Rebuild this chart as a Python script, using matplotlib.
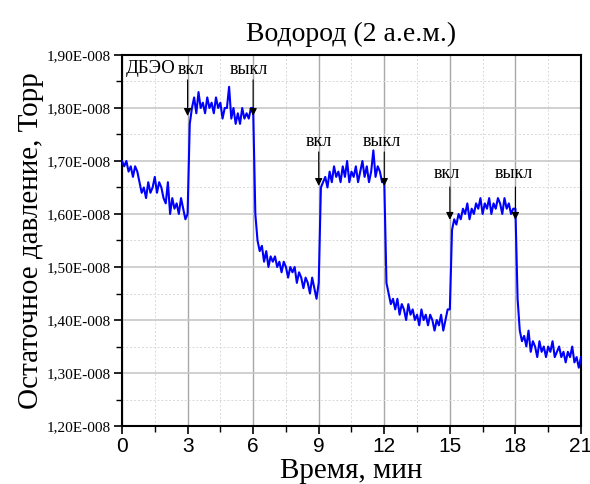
import numpy as np
import matplotlib
matplotlib.use("Agg")
import matplotlib.pyplot as plt
from matplotlib.ticker import MultipleLocator, FuncFormatter

# давление в единицах 1E-008 Торр, шаг 0,1 мин
seg0 = [1.70, 1.69, 1.70, 1.68, 1.69, 1.67, 1.69, 1.68, 1.66, 1.64,
        1.65, 1.63, 1.66, 1.64, 1.65, 1.67, 1.64, 1.66, 1.65, 1.63,
        1.62, 1.66, 1.60, 1.63, 1.61, 1.62, 1.60, 1.63, 1.61, 1.59]
seg1 = [1.60, 1.77, 1.80, 1.82, 1.79, 1.83, 1.80, 1.81, 1.79, 1.82,
        1.80, 1.81, 1.79, 1.82, 1.80, 1.81, 1.78, 1.80, 1.80, 1.84,
        1.78, 1.80, 1.77, 1.79, 1.77, 1.80, 1.78, 1.79, 1.78, 1.80]
seg2 = [1.80, 1.60, 1.55, 1.53, 1.54, 1.51, 1.53, 1.50, 1.52, 1.51,
        1.52, 1.50, 1.51, 1.49, 1.51, 1.50, 1.48, 1.50, 1.49, 1.50,
        1.47, 1.49, 1.48, 1.46, 1.48, 1.47, 1.45, 1.48, 1.46, 1.44]
seg3 = [1.47, 1.65, 1.66, 1.67, 1.65, 1.68, 1.66, 1.69, 1.67, 1.68,
        1.66, 1.69, 1.67, 1.70, 1.66, 1.68, 1.67, 1.69, 1.66, 1.68,
        1.70, 1.67, 1.69, 1.66, 1.68, 1.72, 1.67, 1.69, 1.68, 1.66]
seg4 = [1.66, 1.47, 1.45, 1.43, 1.44, 1.42, 1.44, 1.41, 1.43, 1.42,
        1.40, 1.43, 1.41, 1.42, 1.40, 1.41, 1.39, 1.42, 1.40, 1.41,
        1.39, 1.41, 1.40, 1.38, 1.40, 1.39, 1.41, 1.38, 1.40, 1.42]
seg5 = [1.42, 1.57, 1.59, 1.58, 1.60, 1.59, 1.61, 1.60, 1.62, 1.59,
        1.61, 1.60, 1.62, 1.61, 1.63, 1.60, 1.62, 1.61, 1.63, 1.60,
        1.62, 1.61, 1.63, 1.62, 1.60, 1.63, 1.61, 1.62, 1.60, 1.61]
seg6 = [1.61, 1.44, 1.38, 1.36, 1.37, 1.35, 1.38, 1.34, 1.36, 1.35,
        1.33, 1.36, 1.34, 1.35, 1.33, 1.35, 1.34, 1.36, 1.33, 1.34,
        1.35, 1.33, 1.34, 1.32, 1.34, 1.33, 1.35, 1.32, 1.33, 1.31, 1.33]
pressure = np.array(seg0 + seg1 + seg2 + seg3 + seg4 + seg5 + seg6)
time = np.round(np.arange(len(pressure)) * 0.1, 1)

# подписи стрелок: (текст, x текста, y текста, x стрелки, начало, конец)
labels = [("вкл", 3.13, 1.872, 3.0, 1.853, 1.785),
          ("выкл", 5.81, 1.872, 6.0, 1.853, 1.785),
          ("вкл", 8.99, 1.736, 9.0, 1.717, 1.653),
          ("выкл", 11.9, 1.736, 12.0, 1.717, 1.653),
          ("вкл", 14.84, 1.677, 15.0, 1.651, 1.589),
          ("выкл", 17.93, 1.677, 18.0, 1.651, 1.589)]

serif = "Liberation Serif"
sans = "Liberation Sans"

fig = plt.figure(figsize=(5.9, 4.84), dpi=100)
ax = fig.add_axes([0.2068, 0.1198, 0.7779, 0.7666])

ax.plot(time, pressure, color=(0, 0, 1), lw=1.5, zorder=3)

ax.set_xlim(0, 21)
ax.set_ylim(1.2, 1.9)
ax.xaxis.set_major_locator(MultipleLocator(3))
ax.xaxis.set_minor_locator(MultipleLocator(1.5))
ax.yaxis.set_major_locator(MultipleLocator(0.1))
ax.yaxis.set_minor_locator(MultipleLocator(0.05))
ax.yaxis.set_major_formatter(FuncFormatter(
    lambda v, p: "{:.2f}E-008".format(v).replace(".", ",")))

ax.grid(which="major", axis="x", color="#a8a8a8", lw=1.0, zorder=0)
ax.grid(which="major", axis="y", color="#c8c8c8", lw=1.2, zorder=0)
ax.grid(which="minor", color="#d8d8d8", lw=0.7, ls=(0, (2, 2)), zorder=0)

ax.tick_params(which="major", direction="out", length=6, width=1.2)
ax.tick_params(which="minor", direction="out", length=4, width=1.0)
ax.tick_params(axis="x", labelsize=15, pad=2)
ax.tick_params(axis="y", labelsize=11, pad=2)
for lab in ax.get_xticklabels():
    lab.set_fontfamily(sans)
for lab in ax.get_yticklabels():
    lab.set_fontfamily(serif)
for sp in ax.spines.values():
    sp.set_linewidth(1.5)

ax.set_title("Водород (2 а.е.м.)", family=serif, fontsize=20, pad=10)
ax.set_xlabel("Время, мин", family=serif, fontsize=21, labelpad=1)
ax.set_ylabel("Остаточное давление, Торр", family=serif, fontsize=21, labelpad=2)

ax.text(1.3, 1.874, "ДБЭО", family=serif, fontsize=13.5, ha="center", va="center")
for txt, tx, ty, ax_x, y0, y1 in labels:
    ax.text(tx, ty, txt, family=serif, fontsize=13, ha="center", va="center")
    ax.annotate("", xy=(ax_x, y1), xytext=(ax_x, y0),
                arrowprops=dict(arrowstyle="-|>", color="black", lw=0.8,
                                mutation_scale=11, shrinkA=0, shrinkB=0),
                zorder=4)

fig.savefig("out.png", dpi=100)
